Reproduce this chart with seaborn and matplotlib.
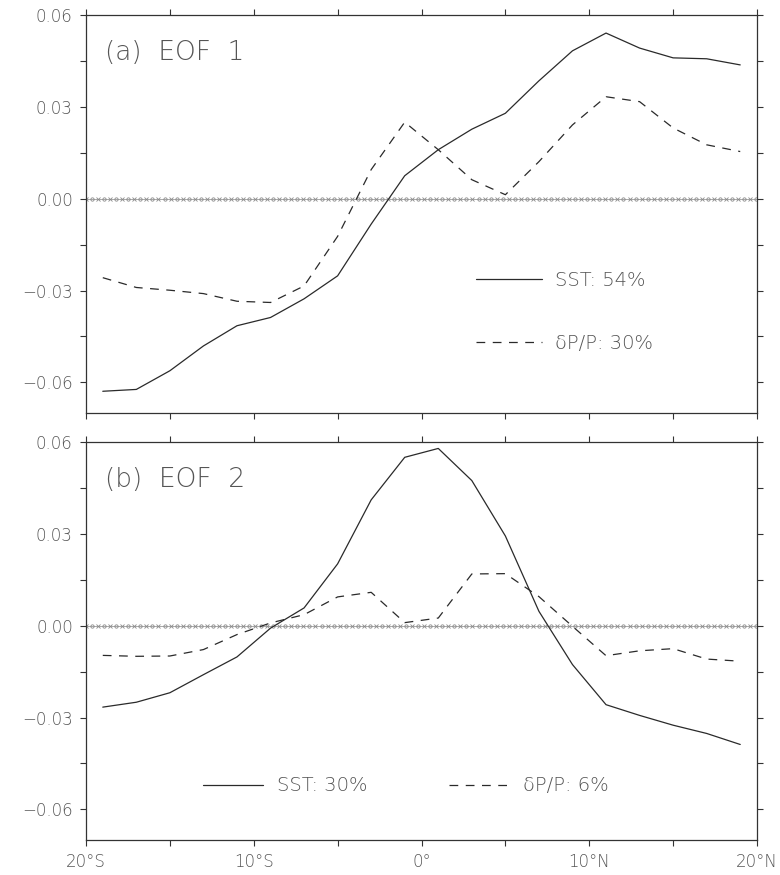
import numpy as np
import pandas as pd
import matplotlib
matplotlib.use("Agg")
import matplotlib.pyplot as plt
import seaborn as sns
from matplotlib.ticker import MultipleLocator, FixedLocator, FixedFormatter

# ---------------- data ----------------
lat = [-19, -17, -15, -13, -11, -9, -7, -5, -3, -1, 1, 3, 5, 7, 9, 11, 13, 15, 17, 19]

sst_eof1 = [-0.0629, -0.0623, -0.0562, -0.0481, -0.0415, -0.0388, -0.0327, -0.0252, -0.0083, 0.0075,
            0.0160, 0.0227, 0.0279, 0.0385, 0.0483, 0.0541, 0.0492, 0.0460, 0.0457, 0.0437]
dp_eof1 = [-0.0258, -0.0290, -0.0299, -0.0310, -0.0335, -0.0339, -0.0285, -0.0123, 0.0095, 0.0250,
           0.0160, 0.0062, 0.0013, 0.0121, 0.0241, 0.0333, 0.0317, 0.0231, 0.0176, 0.0154]

sst_eof2 = [-0.0266, -0.0250, -0.0219, -0.0160, -0.0102, -0.0008, 0.0058, 0.0202, 0.0411, 0.0550,
            0.0579, 0.0474, 0.0293, 0.0047, -0.0127, -0.0258, -0.0293, -0.0325, -0.0352, -0.0388]
dp_eof2 = [-0.0097, -0.0100, -0.0099, -0.0078, -0.0029, 0.0009, 0.0036, 0.0094, 0.0109, 0.0010,
           0.0025, 0.0169, 0.0170, 0.0095, -0.0002, -0.0098, -0.0082, -0.0075, -0.0109, -0.0116]

panel_titles = ["(a)  EOF  1", "(b)  EOF  2"]
sst_labels = ["SST: 54%", "SST: 30%"]
dp_labels = ["\u03b4P/P: 30%", "\u03b4P/P: 6%"]

xtick_vals = [-20, -10, 0, 10, 20]
xtick_labels = ["20°S", "10°S", "0°", "10°N", "20°N"]
ytick_vals = [-0.06, -0.03, 0.0, 0.03, 0.06]
ytick_labels = ["\u22120.06", "\u22120.03", "0.00", "0.03", "0.06"]

# ---------------- style ----------------
sns.set_style("ticks")
plt.rcParams["font.family"] = ["DejaVu Sans"]
plt.rcParams["font.weight"] = "light"
TXT = "#555555"
LINE = "#2a2a2a"

fig = plt.figure(figsize=(7.8, 8.75), dpi=100)
W, H = 780.0, 875.0
ax_a = fig.add_axes([86 / W, 1 - 413 / H, 671 / W, 398 / H])
ax_b = fig.add_axes([86 / W, 1 - 840 / H, 671 / W, 398 / H])

datasets = [(sst_eof1, dp_eof1), (sst_eof2, dp_eof2)]

for i, ax in enumerate([ax_a, ax_b]):
    sst, dp = datasets[i]
    df = pd.DataFrame({"lat": lat, "sst": sst, "dp": dp})

    # zero line with small cross / circle markers
    ax.axhline(0, color="#9a9a9a", lw=0.6, zorder=1)
    zx = np.arange(-20, 20.01, 0.36)
    ax.plot(zx[::2], np.zeros_like(zx[::2]), ls="none", marker="x", ms=2.6, mew=0.6, color="#8a8a8a", zorder=1)
    ax.plot(zx[1::2], np.zeros_like(zx[1::2]), ls="none", marker="o", ms=2.4, mew=0.6,
            mfc="none", mec="#8a8a8a", zorder=1)

    sns.lineplot(data=df, x="lat", y="sst", ax=ax, color=LINE, lw=0.9, label=sst_labels[i])
    sns.lineplot(data=df, x="lat", y="dp", ax=ax, color=LINE, lw=0.9, label=dp_labels[i])
    ax.lines[-1].set_linestyle((0, (7, 6)))

    ax.set_xlim(-20, 20)
    ax.set_ylim(-0.07, 0.06)
    ax.set_xlabel("")
    ax.set_ylabel("")

    ax.xaxis.set_major_locator(FixedLocator(xtick_vals))
    ax.xaxis.set_minor_locator(MultipleLocator(5))
    ax.yaxis.set_major_locator(FixedLocator(ytick_vals))
    ax.yaxis.set_major_formatter(FixedFormatter(ytick_labels))
    ax.yaxis.set_minor_locator(MultipleLocator(0.015))
    ax.tick_params(axis="both", which="both", direction="out", length=4.5, width=0.8,
                   color="#333333", top=True, right=True, labelsize=12, labelcolor=TXT, pad=5)
    if i == 0:
        ax.set_xticklabels([])
    else:
        ax.set_xticklabels(xtick_labels)
    for s in ax.spines.values():
        s.set_color("#333333")
        s.set_linewidth(0.9)

    ax.text(0.028, 0.905, panel_titles[i], transform=ax.transAxes, fontsize=19,
            color=TXT, va="center", ha="left")

    handles, labels = ax.get_legend_handles_labels()
    if i == 0:
        leg = ax.legend(handles[-2:], labels[-2:], loc="center left",
                        bbox_to_anchor=(0.566, 0.254), frameon=False, fontsize=14,
                        handlelength=3.4, handletextpad=0.7, labelspacing=2.3, borderpad=0)
    else:
        leg = ax.legend(handles[-2:], labels[-2:], loc="center left",
                        bbox_to_anchor=(0.16, 0.136), frameon=False, fontsize=14, ncol=2,
                        handlelength=3.1, handletextpad=0.7, columnspacing=4.2, borderpad=0)
    for t in leg.get_texts():
        t.set_color(TXT)

fig.savefig("out.png", dpi=100)
